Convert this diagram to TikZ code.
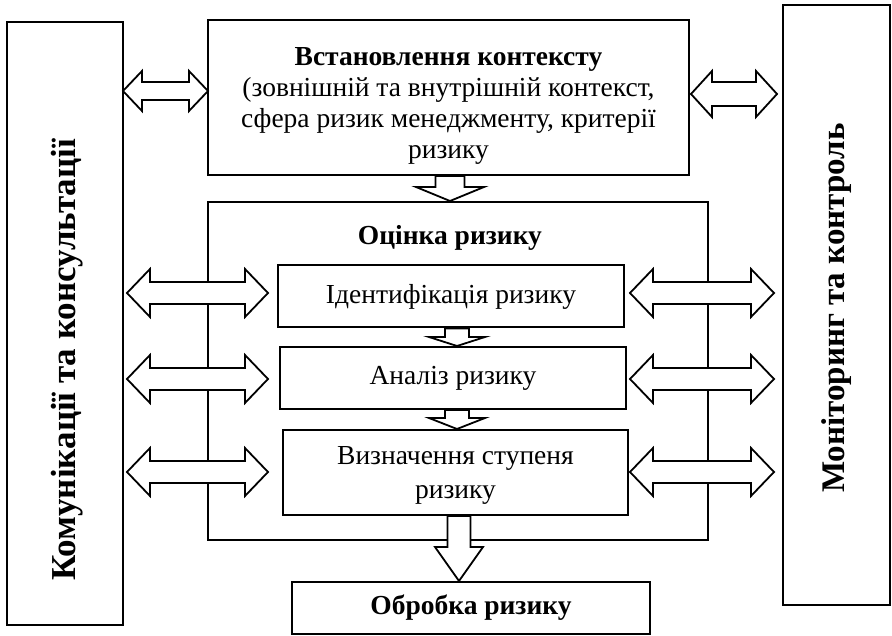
\documentclass[tikz,border=0pt]{standalone}
\usepackage{fontspec}
\setmainfont{Liberation Serif}
\usetikzlibrary{calc}
% horizontal double block arrow between two tips: #1,#2 coordinates; #3 shaft half; #4 head half; #5 head length
\newcommand{\hdbl}[5]{\draw[blockarrow] let \p1=(#1), \p2=(#2) in
 (\x1,\y1) -- ({\x1+#5pt},{\y1+#4pt}) -- ({\x1+#5pt},{\y1+#3pt}) -- ({\x2-#5pt},{\y1+#3pt}) -- ({\x2-#5pt},{\y1+#4pt}) -- (\x2,\y1)
 -- ({\x2-#5pt},{\y1-#4pt}) -- ({\x2-#5pt},{\y1-#3pt}) -- ({\x1+#5pt},{\y1-#3pt}) -- ({\x1+#5pt},{\y1-#4pt}) -- cycle;}
% vertical down block arrow: #1 top, #2 tip; #3 shaft half; #4 head half; #5 head length
\newcommand{\vdn}[5]{\draw[blockarrow] let \p1=(#1), \p2=(#2) in
 ({\x1-#3pt},\y1) -- ({\x1+#3pt},\y1) -- ({\x1+#3pt},{\y2+#5pt}) -- ({\x1+#4pt},{\y2+#5pt}) -- (\x1,\y2)
 -- ({\x1-#4pt},{\y2+#5pt}) -- ({\x1-#3pt},{\y2+#5pt}) -- cycle;}
\begin{document}
\begin{tikzpicture}[x=1pt,y=-1pt,
  box/.style={draw,line width=2pt,rectangle,inner sep=0pt,align=center,font=\fontsize{27.5}{31}\selectfont},
  txt/.style={align=center,inner sep=0pt,font=\fontsize{27.5}{31}\selectfont},
  blockarrow/.style={draw,line width=1.8pt,fill=white,line join=miter},
  lbl/.style={font=\fontsize{27.5}{31}\selectfont\bfseries},
  vlbl/.style={font=\fontsize{33}{36}\selectfont\bfseries,rotate=90}]
\useasboundingbox (0,0) rectangle (892,636);
% side boxes
\node[box,minimum width=116pt,minimum height=603pt] (comm) at (65,323.5) {};
\node[vlbl,font=\fontsize{35}{38}\selectfont\bfseries] (commT) at (67,360) {Комунікації та консультації};
\node[box,minimum width=107pt,minimum height=600pt] (mon) at (836.5,305) {};
\node[vlbl] (monT) at (837,308) {Моніторинг та контроль};
% context box
\node[box,minimum width=481pt,minimum height=155pt] (ctx) at (448.5,97.5) {};
\node[txt] (ctxT) at (448.5,106) {\textbf{Встановлення контексту}\\(зовнішній та внутрішній контекст,\\сфера ризик менеджменту, критерії\\ризику};
% assessment group
\node[box,minimum width=500pt,minimum height=338pt] (assess) at (458,371) {};
\node[lbl] (assessT) at (450,238) {Оцінка ризику};
\node[box,minimum width=346pt,minimum height=62pt] (ident) at (451,296.5) {Ідентифікація ризику};
\node[box,minimum width=346pt,minimum height=62pt] (anal) at (453,378) {Аналіз ризику};
\node[box,minimum width=345pt,minimum height=85pt] (level) at (455.5,472.5) {};
\node[txt,font=\fontsize{27.5}{34}\selectfont] (levelT) at (455.5,475) {Визначення ступеня\\ризику};
\node[box,minimum width=358pt,minimum height=52pt] (treat) at (471,608) {\textbf{Обробка ризику}};
% arrow end coordinates
\coordinate (c1a) at (123,91);  \coordinate (c1b) at (208,91);
\coordinate (c2a) at (691,94);  \coordinate (c2b) at (777,94);
\coordinate (l1a) at (127,293); \coordinate (l1b) at (268,293);
\coordinate (l2a) at (127,379); \coordinate (l2b) at (268,379);
\coordinate (l3a) at (127,472); \coordinate (l3b) at (268,472);
\coordinate (r1a) at (630,293); \coordinate (r1b) at (774,293);
\coordinate (r2a) at (630,379); \coordinate (r2b) at (774,379);
\coordinate (r3a) at (630,472); \coordinate (r3b) at (774,472);
\coordinate (d1a) at (ctx.south -| 450,0);   \coordinate (d1b) at (assess.north -| 450,0);
\coordinate (d2a) at (ident.south -| 457,0); \coordinate (d2b) at (anal.north -| 457,0);
\coordinate (d3a) at (anal.south -| 457,0);  \coordinate (d3b) at (level.north -| 457,0);
\coordinate (d4a) at (level.south -| 459,0); \coordinate (d4b) at (treat.north -| 459,0);
% double arrows
\hdbl{c1a}{c1b}{9}{20}{19}
\hdbl{c2a}{c2b}{12}{23}{21}
\hdbl{l1a}{l1b}{11}{24}{23}
\hdbl{l2a}{l2b}{11}{24}{23}
\hdbl{l3a}{l3b}{11}{24}{23}
\hdbl{r1a}{r1b}{11}{24}{23}
\hdbl{r2a}{r2b}{11}{24}{23}
\hdbl{r3a}{r3b}{11}{24}{23}
% down arrows
\vdn{d1a}{d1b}{14.5}{34}{14}
\vdn{d2a}{d2b}{12}{28}{9}
\vdn{d3a}{d3b}{12}{28}{11}
\vdn{d4a}{d4b}{11.5}{24}{34}
\end{tikzpicture}
\end{document}
